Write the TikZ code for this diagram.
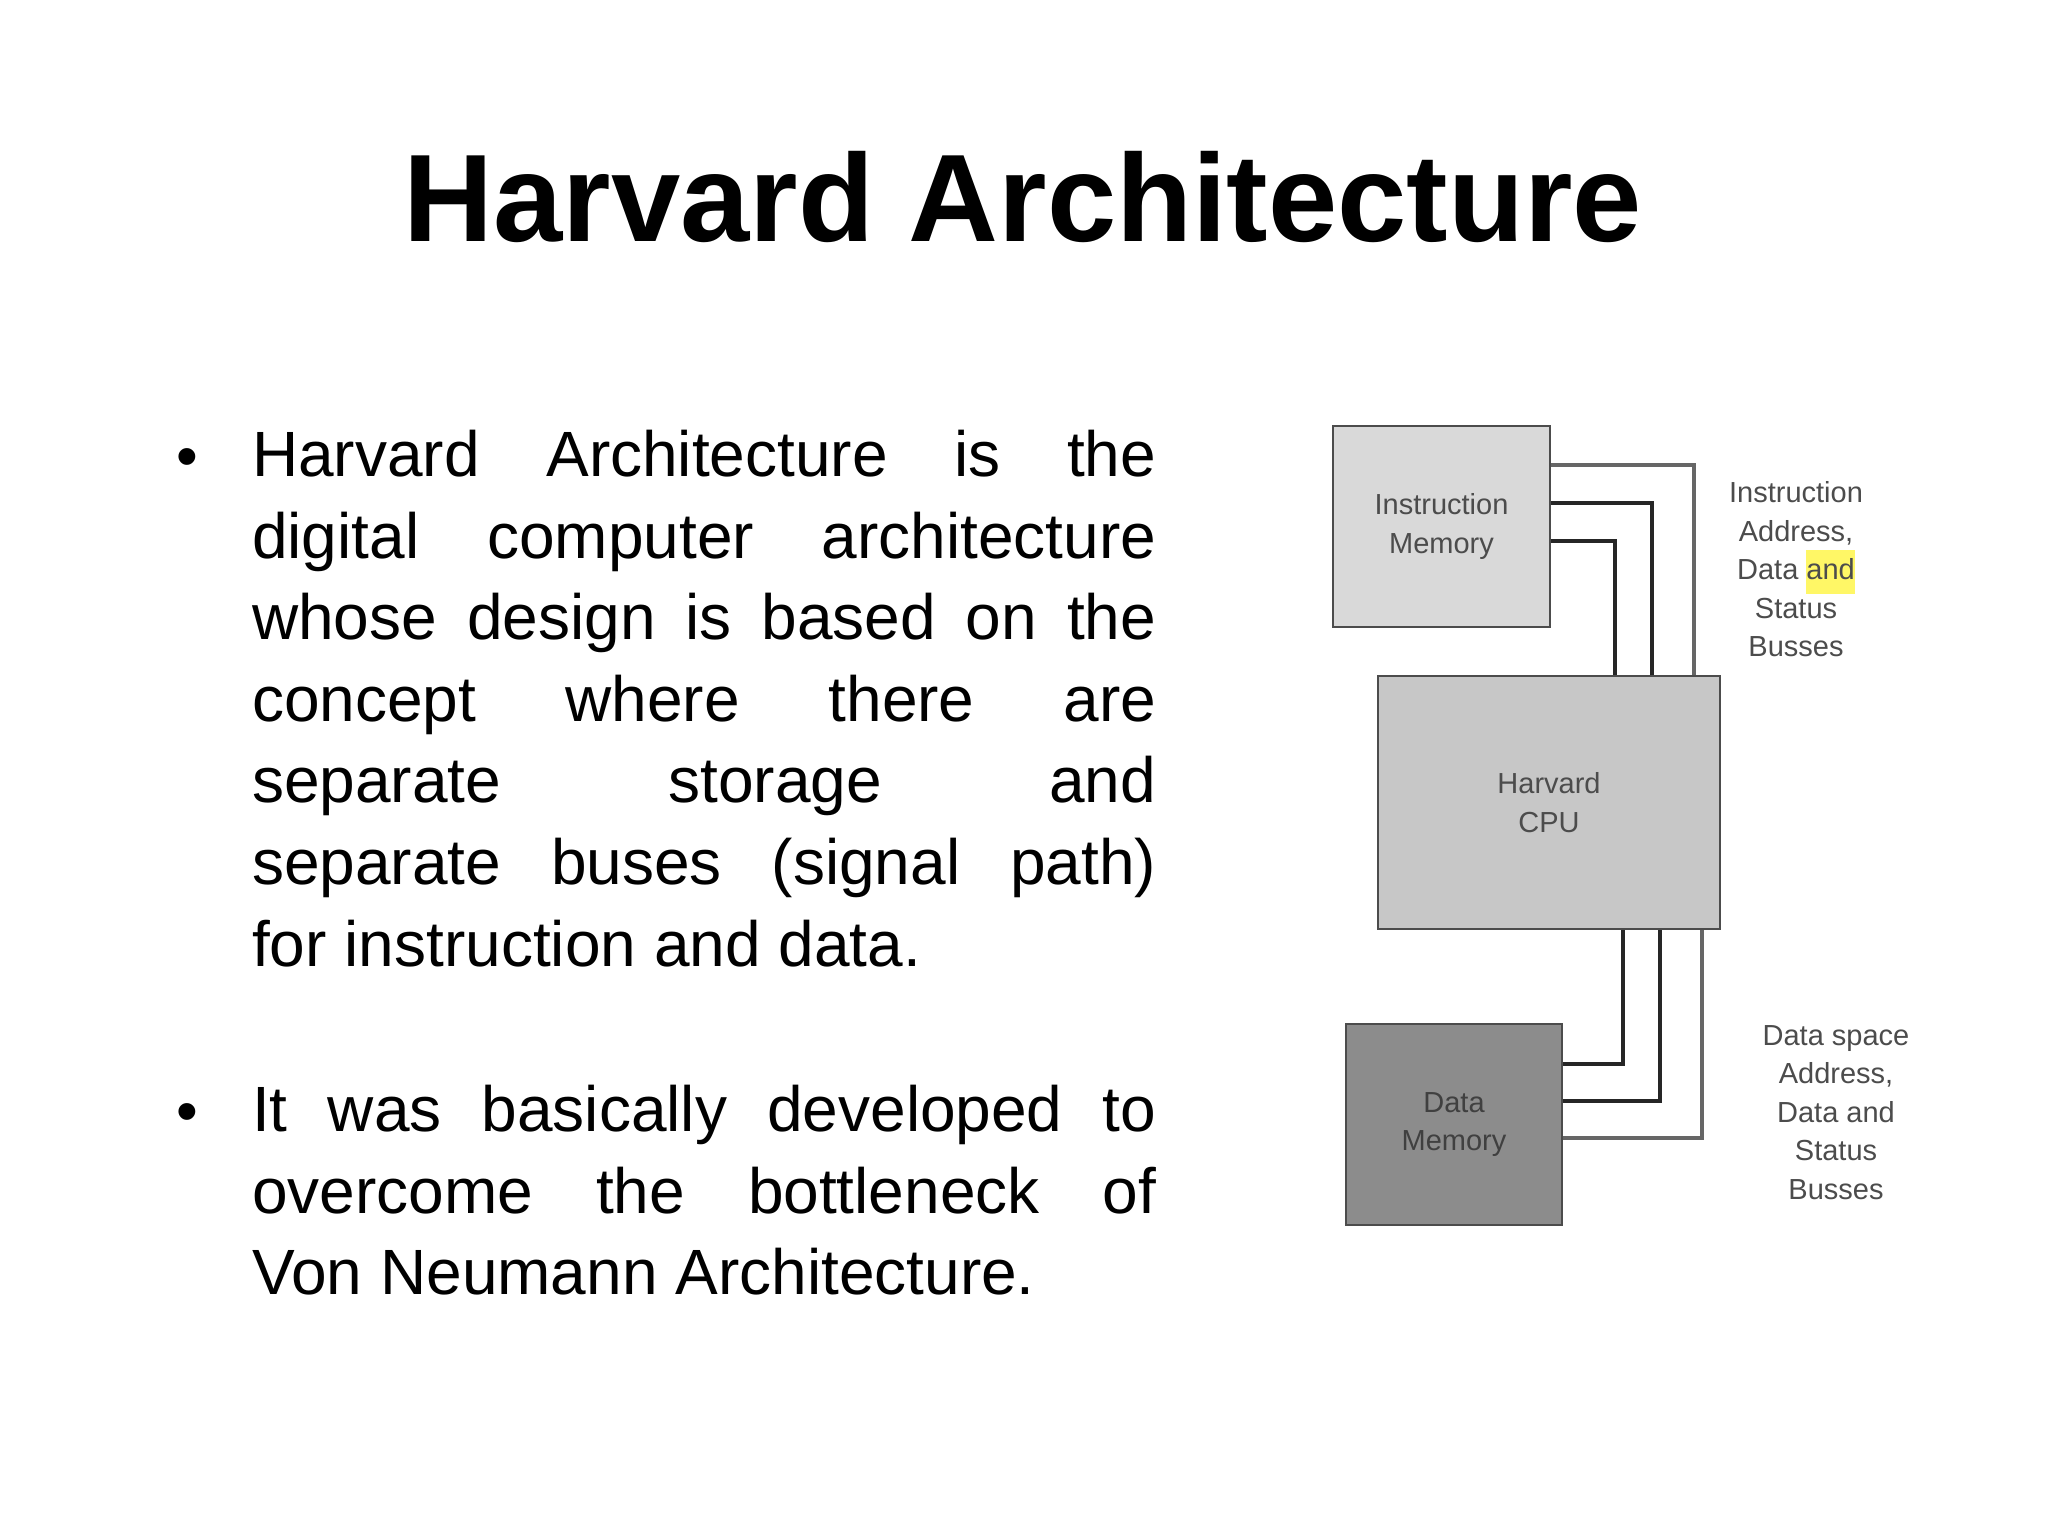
\documentclass[tikz,border=0pt]{standalone}
\usepackage{fontspec}
\setmainfont{Liberation Sans}
\begin{document}
\begin{tikzpicture}[x=1pt,y=-1pt,
  box/.style={draw=black!70,line width=2.5pt},
  bus/.style={line width=3.5pt,draw=black!85},
  lbl/.style={text=black!70,font=\fontsize{29}{38.5}\selectfont,align=center},
  body/.style={anchor=north west,text width=904pt,align=justify,inner sep=0pt,font=\fontsize{64}{81.6}\selectfont}]
\useasboundingbox[fill=white] (0,0) rectangle (2048,1536);
\node[font=\fontsize{124.5}{130}\selectfont\bfseries] (title) at (1023,197) {Harvard Architecture};
\node[anchor=base,font=\fontsize{62}{70}\selectfont] (b1) at (187,477) {\textbullet};
\node[body] (t1) at (252,430) {Harvard Architecture is the\linebreak digital computer architecture\linebreak whose design is based on the\linebreak concept where there are\linebreak separate storage and\linebreak separate buses (signal path)\linebreak for instruction and data.};
\node[anchor=base,font=\fontsize{62}{70}\selectfont] (b2) at (187,1132) {\textbullet};
\node[body] (t2) at (252,1085) {It was basically developed to\linebreak overcome the bottleneck of\linebreak Von Neumann Architecture.};
% boxes
\node[box,fill=black!15,minimum width=217pt,minimum height=201pt,lbl] (im) at (1441.5,526.5) {Instruction\\Memory};
\node[box,fill=black!22,minimum width=342pt,minimum height=253pt,lbl] (cpu) at (1549,802.5) {Harvard\\CPU};
\node[box,fill=black!45,minimum width=216pt,minimum height=201pt,lbl,text=black!75] (dm) at (1454,1124.5) {Data\\Memory};
% coordinates
\coordinate (u1) at (1694,465); \coordinate (u2) at (1652,503); \coordinate (u3) at (1615,541);
\coordinate (d1) at (1623,1064); \coordinate (d2) at (1660,1101); \coordinate (d3) at (1702,1138);
\draw[bus,draw=black!60] (im.east |- u1) -- (u1) -- (u1 |- cpu.north);
\draw[bus] (im.east |- u2) -- (u2) -- (u2 |- cpu.north);
\draw[bus] (im.east |- u3) -- (u3) -- (u3 |- cpu.north);
\draw[bus] (d1 |- cpu.south) -- (d1) -- (dm.east |- d1);
\draw[bus] (d2 |- cpu.south) -- (d2) -- (dm.east |- d2);
\draw[bus,draw=black!60] (d3 |- cpu.south) -- (d3) -- (dm.east |- d3);
\node[lbl,anchor=north] (l1) at (1796,478) {Instruction\\Address,\\Data \colorbox{yellow!60}{\strut\hspace{-3pt}and\hspace{-3pt}}\\Status\\Busses};
\node[lbl,anchor=north] (l2) at (1836,1022) {Data space\\Address,\\Data and\\Status\\Busses};
\end{tikzpicture}
\end{document}
